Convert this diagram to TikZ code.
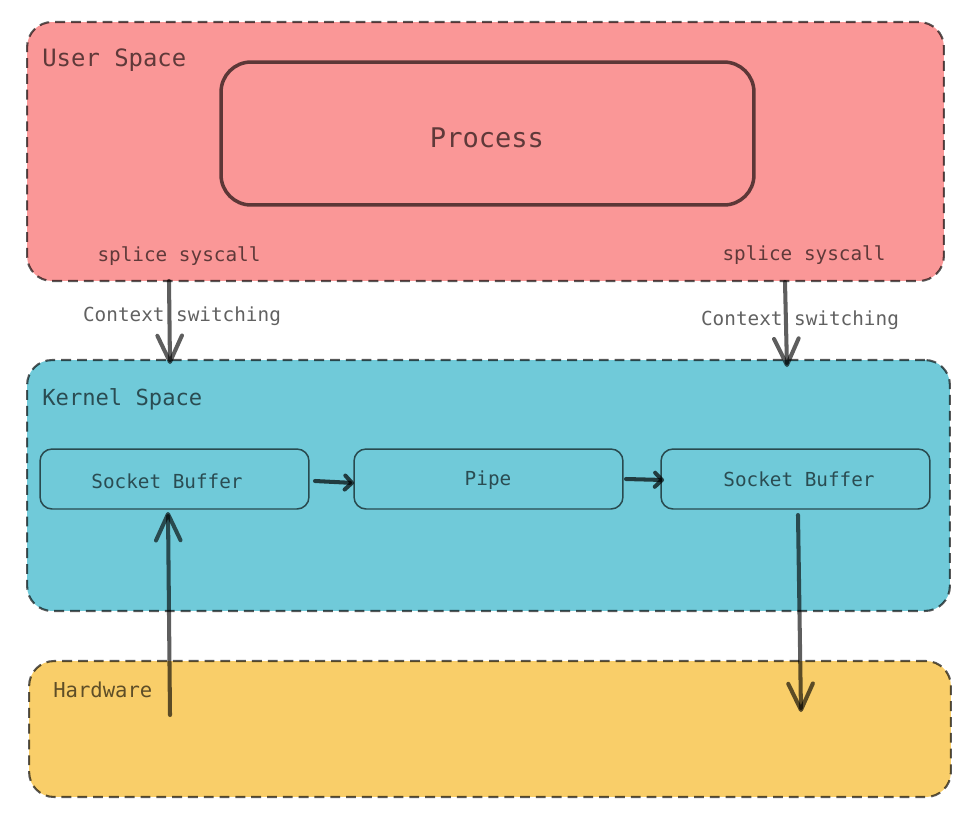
\documentclass[tikz,border=0pt]{standalone}
\usepackage{fontspec}
\setmonofont{DejaVu Sans Mono}
\usetikzlibrary{calc,arrows.meta}

\definecolor{userred}{HTML}{FA9797}
\definecolor{kernelblue}{HTML}{70CAD9}
\definecolor{hwyellow}{HTML}{F9CE69}

\begin{document}
\begin{tikzpicture}[x=0.02cm,y=-0.02cm]
            \tikzstyle{space}=[rectangle,draw=black,draw opacity=0.65,line width=1.2pt,dash pattern=on 5.6pt off 3.4pt,rounded corners=0.5cm,inner sep=0pt]
            \tikzstyle{inbox}=[rectangle,draw=black,draw opacity=0.63,line width=0.85pt,rounded corners=0.24cm,minimum width=5.38cm,minimum height=1.2cm,inner sep=0pt]
            \tikzstyle{txt}=[text=black,text opacity=0.62,inner sep=0pt,font=\ttfamily]
            \tikzstyle{arr}=[draw=black,draw opacity=0.63,line width=2.3pt,line cap=round,-{Straight Barb[length=15pt,width=14pt,round]}]
            \tikzstyle{shortarr}=[draw=black,draw opacity=0.7,line width=2.3pt,line cap=round,-{Straight Barb[length=4pt,width=8pt,round]}]
            \useasboundingbox (0,0) rectangle (974,822);
            % the three layers
            \node[space,fill=userred,minimum width=18.34cm,minimum height=5.18cm] (user) at (485.5,151.5) {};
            \node[space,fill=kernelblue,minimum width=18.46cm,minimum height=5.02cm] (kernel) at (488.5,485.5) {};
            \node[space,fill=hwyellow,minimum width=18.44cm,minimum height=2.72cm] (hw) at (490,729) {};
            \node[rectangle,draw=black,draw opacity=0.63,line width=2pt,rounded corners=0.6cm,minimum width=10.66cm,minimum height=2.86cm] (proc) at (487.5,133.5) {};
            \node[txt,font=\ttfamily\fontsize{15.4}{18}\selectfont] (proclbl) at (487,138) {Process};
            \node[txt,anchor=west,font=\ttfamily\fontsize{13.6}{16}\selectfont] (userlbl) at (42,60) {User Space};
            \node[txt,anchor=west,font=\ttfamily\fontsize{12.6}{15}\selectfont] (kernellbl) at (42,399) {Kernel Space};
            \node[txt,anchor=west,font=\ttfamily\fontsize{11.7}{14}\selectfont] (hwlbl) at (53,690) {Hardware};
            \node[txt,font=\ttfamily\fontsize{11}{13}\selectfont] (spliceA) at (179,256) {splice syscall};
            \node[txt,font=\ttfamily\fontsize{11}{13}\selectfont] (spliceB) at (804,255) {splice syscall};
            \node[txt,font=\ttfamily\fontsize{11}{13}\selectfont] (ctxlblA) at (182,316) {Context switching};
            \node[txt,font=\ttfamily\fontsize{11}{13}\selectfont] (ctxlblB) at (800,320) {Context switching};
            % kernel buffers
            \node[inbox] (sockA) at (174.5,479) {};
            \node[inbox] (pipe) at (488.5,479) {};
            \node[inbox] (sockB) at (795.5,479) {};
            \node[txt,font=\ttfamily\fontsize{11}{13}\selectfont] (sockAlbl) at (167,481) {Socket Buffer};
            \node[txt,font=\ttfamily\fontsize{11}{13}\selectfont] (pipelbl) at (488,480) {Pipe};
            \node[txt,font=\ttfamily\fontsize{11}{13}\selectfont] (sockBlbl) at (799,479) {Socket Buffer};
            % arrow ends
            \coordinate (ctxA1) at (169,281);
            \coordinate (ctxA2) at (170,364);
            \coordinate (ctxB1) at (785,282);
            \coordinate (ctxB2) at (787,367);
            \coordinate (upA) at (170,715);
            \coordinate (upB) at (168,512);
            \coordinate (downA) at (798,515);
            \coordinate (downB) at (801,712);
            \coordinate (sA) at (315,481);
            \coordinate (sB) at (354,483);
            \coordinate (pA) at (626,479);
            \coordinate (pB) at (664,480);
            \draw[arr] (ctxA1) -- (ctxA2);
            \draw[arr] (ctxB1) -- (ctxB2);
            \draw[arr] (upA) -- (upB);
            \draw[arr] (downA) -- (downB);
            \draw[shortarr] (sA) -- (sB);
            \draw[shortarr] (pA) -- (pB);
        \end{tikzpicture}
\end{document}
